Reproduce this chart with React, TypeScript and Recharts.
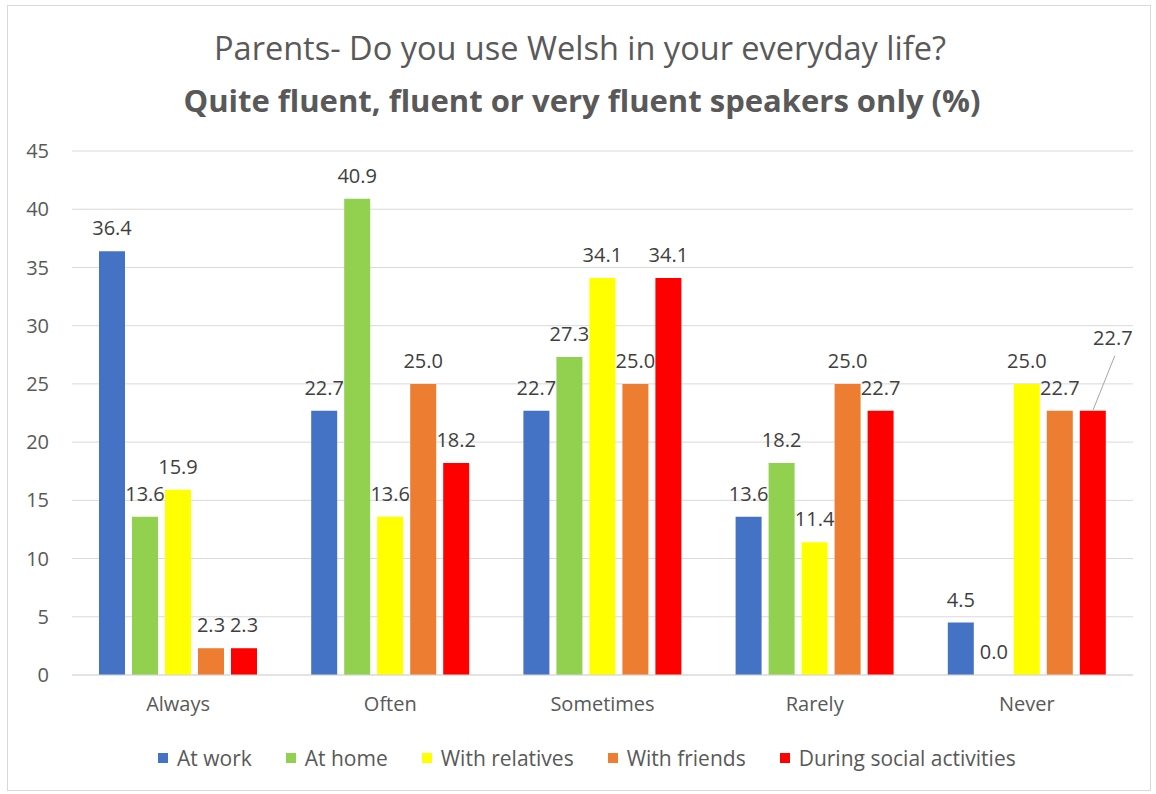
import React from "react";
import { BarChart, Bar, XAxis, YAxis, CartesianGrid, LabelList } from "recharts";

const categories = ["Always", "Often", "Sometimes", "Rarely", "Never"];
const atWork = [36.4, 22.7, 22.7, 13.6, 4.5];
const atHome = [13.6, 40.9, 27.3, 18.2, 0.0];
const withRelatives = [15.9, 13.6, 34.1, 11.4, 25.0];
const withFriends = [2.3, 25.0, 25.0, 25.0, 22.7];
const duringSocial = [2.3, 18.2, 34.1, 22.7, 22.7];
const yTicks = [0, 5, 10, 15, 20, 25, 30, 35, 40, 45];

const series = [
  { key: "work", name: "At work", values: atWork, color: "#4472C4" },
  { key: "home", name: "At home", values: atHome, color: "#92D050" },
  { key: "relatives", name: "With relatives", values: withRelatives, color: "#FFFF00" },
  { key: "friends", name: "With friends", values: withFriends, color: "#ED7D31" },
  { key: "social", name: "During social activities", values: duringSocial, color: "#FF0000" },
];

const data = categories.map((category, i) => {
  const row: Record<string, any> = { category };
  series.forEach((s) => {
    row[s.key] = s.values[i];
  });
  return row;
});

const FONT = "'Open Sans', sans-serif";

// the "Never / social" label was dragged away in the original, with a leader line
const makeLabel = (seriesKey: string) => (props: any) => {
  const { x, y, width, height, value, index } = props;
  const cx = x + width / 2;
  const top = Math.min(y, y + height);
  const text = Number(value).toFixed(1);
  if (seriesKey === "social" && categories[index] === "Never") {
    return (
      <g>
        <line x1={cx + 22} y1={top - 55} x2={cx} y2={top} stroke="#a6a6a6" strokeWidth={1} />
        <text x={cx + 20} y={top - 66} textAnchor="middle" fill="#404040" fontSize={20}>
          {text}
        </text>
      </g>
    );
  }
  return (
    <text x={cx} y={top - 16} textAnchor="middle" fill="#404040" fontSize={20}>
      {text}
    </text>
  );
};

// zero values still need their label, so give them a hairline bar
const minSize = (value: any) => (Number(value) === 0 ? 0.01 : 0);

export default function App() {
  return (
    <div style={{ position: "absolute", left: 0, top: 0, width: 1156, height: 794, fontFamily: FONT, background: "#fff" }}>
      <div
        style={{
          position: "absolute",
          left: 7,
          top: 5,
          width: 1144,
          height: 786,
          border: "1px solid #d9d9d9",
          boxSizing: "border-box",
        }}
      />
      <div
        style={{
          position: "absolute",
          left: 0,
          top: 25,
          width: 1160,
          textAlign: "center",
          fontSize: 32.5,
          lineHeight: "46px",
          color: "#595959",
        }}
      >
        Parents- Do you use Welsh in your everyday life?
      </div>
      <div
        style={{
          position: "absolute",
          left: 0,
          top: 78,
          width: 1164,
          textAlign: "center",
          fontSize: 31,
          lineHeight: "44px",
          fontWeight: 700,
          color: "#595959",
        }}
      >
        Quite fluent, fluent or very fluent speakers only (%)
      </div>

      <div style={{ position: "absolute", left: 0, top: 0 }}>
        <BarChart
          width={1156}
          height={794}
          data={data}
          barSize={26}
          barGap={7}
          margin={{ top: 151, right: 23, left: 12, bottom: 79 }}
        >
          <CartesianGrid vertical={false} stroke="#d9d9d9" />
          <XAxis
            dataKey="category"
            height={40}
            tickLine={false}
            axisLine={{ stroke: "#d9d9d9" }}
            tickMargin={16}
            tick={{ fill: "#595959", fontSize: 20 }}
          />
          <YAxis
            width={60}
            domain={[0, 45]}
            ticks={yTicks}
            tickLine={false}
            axisLine={false}
            tickMargin={17}
            tick={{ fill: "#595959", fontSize: 20 }}
          />
          {series.map((s) => (
            <Bar
              key={s.key}
              dataKey={s.key}
              name={s.name}
              fill={s.color}
              minPointSize={minSize}
              isAnimationActive={false}
            >
              <LabelList dataKey={s.key} content={makeLabel(s.key)} />
            </Bar>
          ))}
        </BarChart>
      </div>

      <div
        style={{
          position: "absolute",
          left: 158,
          top: 744,
          display: "flex",
          alignItems: "center",
          fontSize: 21,
          color: "#595959",
          lineHeight: "28px",
        }}
      >
        {series.map((s, i) => (
          <div key={s.key} style={{ display: "flex", alignItems: "center", marginRight: i < series.length - 1 ? 34 : 0 }}>
            <span style={{ width: 10, height: 10, background: s.color, marginRight: 9, display: "inline-block" }} />
            <span>{s.name}</span>
          </div>
        ))}
      </div>
    </div>
  );
}
